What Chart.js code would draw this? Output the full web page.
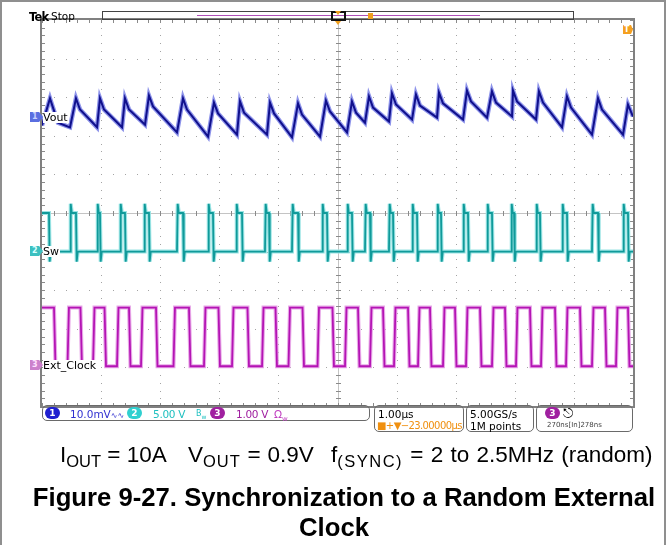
<!DOCTYPE html>
<html>
<head>
<meta charset="utf-8">
<script src="https://cdn.jsdelivr.net/npm/chart.js@4.4.0/dist/chart.umd.min.js"></script>
<style>
  body { margin: 0; background: #fff; width: 668px; height: 545px; overflow: hidden; position: relative; font-family: "DejaVu Sans", sans-serif; }
  #frame { position: absolute; left: 0; top: 0; width: 666px; height: 560px; border: 2px solid #8f8f8f; box-sizing: border-box; }
  canvas { position: absolute; left: 0; top: 0; }
  .t { position: absolute; white-space: nowrap; line-height: 1; }
  .mk { position: absolute; width: 13px; height: 10px; clip-path: polygon(0 0, 70% 0, 100% 50%, 70% 100%, 0 100%); font: bold 8px "DejaVu Sans"; line-height: 10px; text-indent: 2px; }
  .lbl { position: absolute; left: 43px; font: 11px "DejaVu Sans"; line-height: 11px; background: #fff; padding-right: 1px; }
  .box { position: absolute; border: 1px solid #6a6a6a; border-radius: 5px; box-sizing: border-box; }
  .dot { position: absolute; top: 407px; width: 15px; height: 12px; border-radius: 6px; color: #fff; font: bold 9px "DejaVu Sans"; line-height: 12px; text-align: center; }
  .ro { font: 10.5px "DejaVu Sans"; }
  .cap { font-family: "Liberation Sans", Arial, sans-serif; font-size: 22.5px; }
  .cap sub { font-size: 16.5px; vertical-align: -5px; line-height: 0; }
</style>
</head>
<body>
<div id="frame"></div>
<canvas id="scope" width="668" height="545"></canvas>

<!-- top status bar -->
<div class="t" style="left:29px;top:10px;font:bold 11.5px 'DejaVu Sans';letter-spacing:-0.8px">Tek</div>
<div class="t" style="left:51px;top:10px;font:10.5px 'DejaVu Sans'">Stop</div>
<div style="position:absolute;left:102px;top:11px;width:472px;height:9px;border:1px solid #444;box-sizing:border-box"></div>
<div style="position:absolute;left:197px;top:15px;width:283px;height:1px;background:#b050b8"></div>
<div style="position:absolute;left:331px;top:11px;width:15px;height:10px;border:2px solid #111;box-sizing:border-box"></div>
<div style="position:absolute;left:335px;top:11px;width:0;height:0;border-left:3px solid transparent;border-right:3px solid transparent;border-top:4px solid #f0a020"></div>
<div style="position:absolute;left:335px;top:21px;width:0;height:0;border-left:3px solid transparent;border-right:3px solid transparent;border-top:4px solid #f0a020"></div>
<div style="position:absolute;left:368px;top:13px;width:5px;height:6px;background:#f0a020"></div>
<div class="t" style="left:623px;top:25px;width:10px;height:9px;background:#f5a020;clip-path:polygon(0 0,80% 0,100% 50%,80% 100%,0 100%);color:#fff;font:bold 8px 'DejaVu Sans';line-height:9px;text-indent:1px">T</div>

<!-- channel markers and labels -->
<div class="mk" style="left:30px;top:112px;background:#5a6ee0;color:#c8d0ff">1</div>
<div class="lbl" style="top:112px">Vout</div>
<div class="mk" style="left:30px;top:246px;background:#3cc0c0;color:#d8ffff">2</div>
<div class="lbl" style="top:246px">Sw</div>
<div class="mk" style="left:30px;top:360px;background:#cc80cc;color:#ffe0ff">3</div>
<div class="lbl" style="top:360px">Ext_Clock</div>

<!-- readout boxes -->
<div class="box" style="left:42px;top:405px;width:328px;height:16px"></div>
<div class="dot" style="left:45px;background:#2020d0">1</div>
<div class="t ro" style="left:70px;top:408px;color:#3030d0">10.0mV<span style="font-size:8px">&#8767;&#8767;</span></div>
<div class="dot" style="left:127px;background:#30d0d0">2</div>
<div class="t ro" style="left:153px;top:408px;color:#20c0c0;letter-spacing:-0.3px">5.00 V</div>
<div class="t" style="left:196px;top:409px;color:#20c0c0;font:8px 'DejaVu Sans'">B<sub style="font-size:6px">w</sub></div>
<div class="dot" style="left:210px;background:#a020a0">3</div>
<div class="t ro" style="left:236px;top:408px;color:#a020a0;letter-spacing:-0.3px">1.00 V</div>
<div class="t ro" style="left:274px;top:408px;color:#c040c0">&Omega;<sub style="font-size:7px">w</sub></div>

<div class="box" style="left:374px;top:405px;width:90px;height:27px"></div>
<div class="t ro" style="left:378px;top:408px">1.00&micro;s</div>
<div class="t" style="left:377px;top:420px;color:#f09010;font:10px 'DejaVu Sans';letter-spacing:-0.6px">&#9632;+&#9660;&minus;23.00000&micro;s</div>
<div class="box" style="left:466px;top:405px;width:68px;height:27px"></div>
<div class="t ro" style="left:470px;top:408px">5.00GS/s</div>
<div class="t ro" style="left:470px;top:420px">1M points</div>
<div class="box" style="left:536px;top:405px;width:97px;height:27px"></div>
<div class="dot" style="left:545px;background:#a020a0">3</div>
<div class="t" style="left:563px;top:406px;font:13px 'DejaVu Sans'">&#9099;</div>
<div class="t" style="left:547px;top:421px;font:7px 'DejaVu Sans';color:#444">270ns[In]278ns</div>

<!-- caption -->
<div class="t cap" style="left:60px;top:444px">I<sub>OUT</sub> = 10A</div>
<div class="t cap" style="left:188px;top:444px;word-spacing:0.5px">V<sub style="letter-spacing:1px">OUT</sub> = 0.9V</div>
<div class="t cap" style="left:331px;top:444px;word-spacing:1px">f<sub style="letter-spacing:1.5px">(SYNC)</sub> = 2 to 2.5MHz (random)</div>
<div class="t cap" style="left:0;width:688px;text-align:center;top:485px;font-size:25.7px;font-weight:bold">Figure 9-27. Synchronization to a Random External</div>
<div class="t cap" style="left:0;width:668px;text-align:center;top:515px;font-size:25.7px;font-weight:bold">Clock</div>

<script>
// Scope settings (from the readout) and channel marker positions in divisions
const CH1_MV_PER_DIV = 10, CH1_POS = 2.5;
const CH2_V_PER_DIV = 5, CH2_POS = -1;
const CH3_V_PER_DIV = 1, CH3_POS = -4;
const TIME_PER_DIV = 1; // us

// Vout ripple (mV around its marker): valley / peak / knee
const voutT = [0.000, 0.135, 0.186, 0.271, 0.474, 0.575, 0.643, 0.931, 0.981, 1.049, 1.354, 1.404, 1.472,
  1.743, 1.810, 1.878, 2.284, 2.386, 2.453, 2.809, 2.910, 2.978, 3.299, 3.350, 3.418, 3.807, 3.858, 3.926,
  4.230, 4.332, 4.399, 4.704, 4.805, 4.873, 5.161, 5.245, 5.313, 5.465, 5.533, 5.601, 5.871, 5.922, 5.990,
  6.261, 6.328, 6.396, 6.684, 6.717, 6.785, 7.124, 7.191, 7.259, 7.530, 7.614, 7.682, 7.953, 7.970, 8.037,
  8.359, 8.409, 8.477, 8.799, 8.883, 8.951, 9.306, 9.408, 9.475, 9.831, 9.915, 10.0];
const voutMv = [-2.3, 4.7, 2.3, -1.6, -2.8, 4.7, 1.8, -2.8, 4.7, 1.8, -2.8, 4.7, 1.8,
  -2.1, 5.4, 2.6, -4.1, 4.7, 1.8, -5.2, 3.6, 0.8, -4.7, 3.9, 1.0, -4.7, 3.6, 0.8,
  -5.4, 3.4, 0.5, -5.2, 4.1, 1.3, -4.1, 3.9, 1.0, -1.6, 5.2, 2.3, -1.3, 6.0, 3.1,
  -0.8, 5.7, 2.8, -0.3, 6.2, 3.4, -0.8, 6.7, 3.9, -0.3, 6.5, 3.6, 0.0, 6.7, 3.9,
  -0.8, 6.5, 3.6, -2.8, 5.2, 2.3, -4.7, 4.7, 1.8, -4.7, 3.1, 0.0];

// Switch node: edge times (us); the trace starts high
const swRise = [0.474, 0.931, 1.320, 1.726, 2.284, 2.809, 3.283, 3.773, 4.230, 4.738, 5.161, 5.465, 5.871,
  6.261, 6.684, 7.124, 7.530, 7.936, 8.359, 8.799, 9.306, 9.831];
const swFall = [0.118, 0.575, 0.981, 1.404, 1.810, 2.386, 2.893, 3.384, 3.841, 4.332, 4.822, 5.245, 5.550,
  5.939, 6.345, 6.751, 7.208, 7.614, 7.987, 8.426, 8.883, 9.408, 9.915];
const SW_HIGH = 5.0, SW_LOW = 0.0, SW_OVER = 6.2, SW_UNDER = -1.3; // V

// External clock: alternating edges (us), first one falls
const clkEdges = [0.203, 0.431, 0.651, 0.863, 1.058, 1.269, 1.472, 1.675, 1.929, 2.225, 2.487, 2.741,
  2.986, 3.215, 3.477, 3.723, 3.951, 4.171, 4.408, 4.662, 4.915, 5.127, 5.347, 5.550, 5.770, 5.956,
  6.193, 6.362, 6.565, 6.785, 6.988, 7.174, 7.411, 7.614, 7.834, 8.020, 8.257, 8.443, 8.680, 8.866,
  9.103, 9.306, 9.526, 9.712, 9.915];
const CLK_HIGH = 1.55, CLK_LOW = 0.03; // V

function voutPoints() {
  return voutT.map((t, i) => ({ x: t / TIME_PER_DIV, y: CH1_POS + voutMv[i] / CH1_MV_PER_DIV }));
}

function swPoints() {
  const d = (v) => CH2_POS + v / CH2_V_PER_DIV;
  const pts = [{ x: 0, y: d(SW_HIGH) }];
  const edges = [];
  swFall.forEach((t) => edges.push({ t, up: false }));
  swRise.forEach((t) => edges.push({ t, up: true }));
  edges.sort((a, b) => a.t - b.t);
  edges.forEach(({ t, up }) => {
    if (up) {
      pts.push({ x: t, y: d(SW_LOW) }, { x: t + 0.012, y: d(SW_OVER) }, { x: t + 0.03, y: d(SW_HIGH) });
    } else {
      pts.push({ x: t, y: d(SW_HIGH) }, { x: t + 0.012, y: d(SW_UNDER) }, { x: t + 0.03, y: d(SW_LOW) });
    }
  });
  pts.push({ x: 10, y: pts[pts.length - 1].y });
  return pts;
}

function clkPoints() {
  const d = (v) => CH3_POS + v / CH3_V_PER_DIV;
  let level = CLK_HIGH;
  const pts = [{ x: 0, y: d(level) }];
  clkEdges.forEach((t) => {
    const next = level === CLK_HIGH ? CLK_LOW : CLK_HIGH;
    pts.push({ x: t, y: d(level) }, { x: t + 0.025, y: d(next) });
    level = next;
  });
  pts.push({ x: 10, y: d(level) });
  return pts;
}

// Oscilloscope graticule: dotted divisions, ticked centre lines and frame
const graticule = {
  id: 'graticule',
  beforeDatasetsDraw(chart) {
    const { ctx, chartArea: a, scales: { x, y } } = chart;
    ctx.save();
    ctx.fillStyle = '#a4a4a4';
    for (let i = 1; i < 10; i++) {
      if (i === 5) continue;
      const px = Math.round(x.getPixelForValue(i));
      for (let j = -25; j <= 25; j++) ctx.fillRect(px, Math.round(y.getPixelForValue(j * 0.2)), 1, 1);
    }
    for (let i = -4; i <= 4; i++) {
      if (i === 0) continue;
      const py = Math.round(y.getPixelForValue(i));
      for (let j = 0; j <= 50; j++) ctx.fillRect(Math.round(x.getPixelForValue(j * 0.2)), py, 1, 1);
    }
    // centre cross
    const cx = Math.round(x.getPixelForValue(5)), cy = Math.round(y.getPixelForValue(0));
    ctx.fillStyle = '#c4c4c4';
    ctx.fillRect(a.left, cy, a.right - a.left, 1);
    ctx.fillRect(cx, a.top, 1, a.bottom - a.top);
    ctx.fillStyle = '#8a8a8a';
    for (let j = 0; j <= 50; j++) ctx.fillRect(Math.round(x.getPixelForValue(j * 0.2)), cy - 2, 1, 5);
    for (let j = -25; j <= 25; j++) ctx.fillRect(cx - 2, Math.round(y.getPixelForValue(j * 0.2)), 5, 1);
    // frame with inner ticks
    ctx.strokeStyle = '#808080';
    ctx.lineWidth = 2;
    ctx.strokeRect(a.left - 1, a.top - 1, a.right - a.left + 2, a.bottom - a.top + 2);
    ctx.fillStyle = '#8a8a8a';
    for (let j = 0; j <= 50; j++) {
      const px = Math.round(x.getPixelForValue(j * 0.2));
      ctx.fillRect(px, a.top, 1, 3);
      ctx.fillRect(px, a.bottom - 3, 1, 3);
    }
    for (let j = -25; j <= 25; j++) {
      const py = Math.round(y.getPixelForValue(j * 0.2));
      ctx.fillRect(a.left, py, 3, 1);
      ctx.fillRect(a.right - 3, py, 3, 1);
    }
    ctx.restore();
  },
};

// halo drawn first (higher order), bright core on top
function trace(data, color, width, order) {
  return { data, order, borderColor: color, borderWidth: width, showLine: true, pointRadius: 0, tension: 0, borderJoinStyle: 'miter' };
}

const vout = voutPoints(), sw = swPoints(), clk = clkPoints();

new Chart(document.getElementById('scope'), {
  type: 'scatter',
  data: {
    datasets: [
      trace(vout, '#8d93ea', 4.5, 2), trace(vout, '#10108c', 2, 1),
      trace(sw, '#9ae4e4', 4, 2), trace(sw, '#109a9a', 1.8, 1),
      trace(clk, '#e8a8e8', 4, 2), trace(clk, '#b414b4', 1.8, 1),
    ],
  },
  options: {
    responsive: false,
    animation: false,
    layout: { padding: { left: 42, top: 20, right: 35, bottom: 139 } },
    plugins: { legend: { display: false }, tooltip: { enabled: false } },
    scales: {
      x: { type: 'linear', min: 0, max: 10, display: false },
      y: { type: 'linear', min: -5, max: 5, display: false },
    },
  },
  plugins: [graticule],
});
</script>
</body>
</html>
